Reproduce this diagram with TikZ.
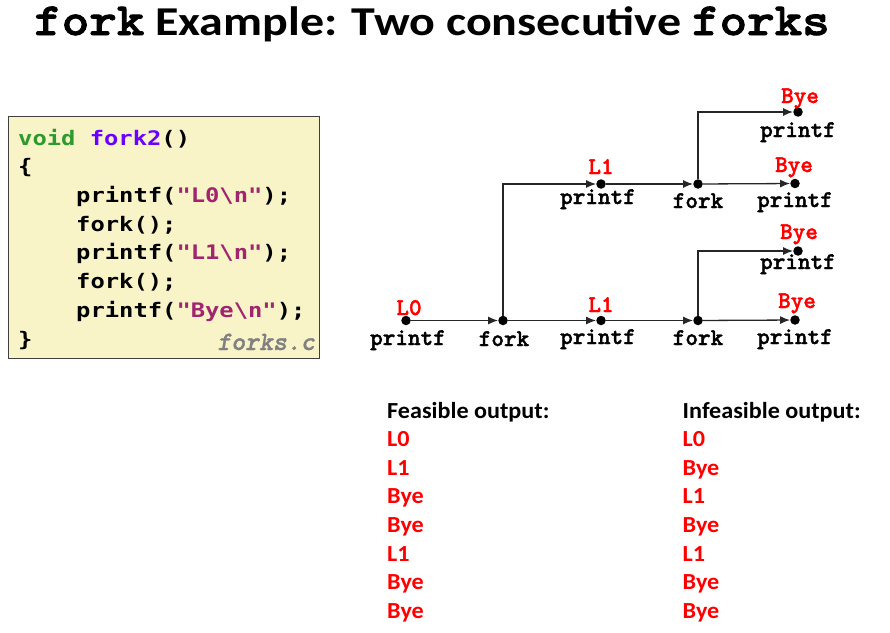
\documentclass[tikz,border=0pt]{standalone}
\usepackage{fontspec}
\setmainfont{Carlito}
\newfontfamily\titlefont[FakeStretch=1.17]{Carlito}
\newfontfamily\outfont[FakeStretch=1.05]{Carlito}
\newfontfamily\slabmono[FakeBold=1.6]{lmmonolt10-bold.otf}
\newfontfamily\slabmonowide[FakeStretch=1.14,FakeBold=2]{lmmonolt10-bold.otf}
\newfontfamily\slabmonoobl[FakeBold=1.2]{lmmonolt10-boldoblique.otf}
\newfontfamily\codefont[FakeStretch=1.19]{DejaVu Sans Mono}
\usetikzlibrary{arrows.meta}

\definecolor{boxfill}{HTML}{F8F4C8}
\definecolor{boxedge}{HTML}{404040}
\definecolor{kwgreen}{HTML}{2E9A2E}
\definecolor{fnpurple}{HTML}{6A00FF}
\definecolor{strmag}{HTML}{A0246E}
\definecolor{outred}{HTML}{FF0000}

\begin{document}
\begin{tikzpicture}[x=1pt,y=-1pt,
  dot/.style={circle,fill=black,inner sep=0pt,minimum size=9.5pt},
  flow/.style={draw=black!85,line width=1.3pt,-{Latex[length=10pt,width=8pt]}},
  redlbl/.style={anchor=base,text=outred,inner sep=0pt,font=\slabmono\fontsize{24}{24}\selectfont},
  blklbl/.style={anchor=base,inner sep=0pt,font=\slabmono\fontsize{24}{24}\selectfont},
  codeline/.style={anchor=base west,inner sep=0pt,font=\codefont\bfseries\fontsize{20}{20}\selectfont},
  outhead/.style={anchor=base west,inner sep=0pt,font=\outfont\bfseries\fontsize{23}{23}\selectfont},
  outline/.style={anchor=base west,inner sep=0pt,text=outred,font=\outfont\bfseries\fontsize{23}{23}\selectfont}]
\useasboundingbox (0,0) rectangle (890,632);

% title
\node[anchor=base,inner sep=0pt,font=\titlefont\bfseries\fontsize{41}{41}\selectfont] (title) at (432,35)
  {{\slabmonowide\fontsize{46}{46}\selectfont fork} Example: Two consecutive {\slabmonowide\fontsize{46}{46}\selectfont forks}};

% source listing
\node[draw=boxedge,fill=boxfill,line width=1.3pt,minimum width=311pt,minimum height=242pt,
      anchor=north west,inner sep=0pt] (code) at (8,116) {};
\node[codeline] (c1) at (18,145) {\textcolor{kwgreen}{void} \textcolor{fnpurple}{fork2}()};
\node[codeline] (c2) at (18,173.7) {\{};
\node[codeline] (c3) at (76,202.4) {printf(\textcolor{strmag}{"L0\textbackslash n"});};
\node[codeline] (c4) at (76,231) {fork();};
\node[codeline] (c5) at (76,259.8) {printf(\textcolor{strmag}{"L1\textbackslash n"});};
\node[codeline] (c6) at (76,288.5) {fork();};
\node[codeline] (c7) at (76,317.2) {printf(\textcolor{strmag}{"Bye\textbackslash n"});};
\node[codeline] (c8) at (18,346) {\}};
\node[anchor=base east,inner sep=0pt,text=black!50,font=\slabmonoobl\fontsize{26.5}{26.5}\selectfont]
  (fname) at (315,350) {forks.c};

% process graph: events
\node[dot] (p0)  at (406,320.5) {};
\node[dot] (f1)  at (503,320.5) {};
\node[dot] (p1l) at (601,320.5) {};
\node[dot] (f2l) at (698,320.5) {};
\node[dot] (b4)  at (795,320) {};
\node[dot] (b3)  at (798,251) {};
\node[dot] (p1u) at (601,184) {};
\node[dot] (f2u) at (698,184) {};
\node[dot] (b2)  at (795,183.5) {};
\node[dot] (b1)  at (798,112) {};

% process graph: control flow
\draw[flow] (p0) -- (f1);
\draw[flow] (f1) -- (p1l);
\draw[flow] (f1) |- (p1u);
\draw[flow] (p1u) -- (f2u);
\draw[flow] (f2u) -- (b2);
\draw[flow] (f2u) |- (b1);
\draw[flow] (p1l) -- (f2l);
\draw[flow] (f2l) -- (b4);
\draw[flow] (f2l) |- (b3);

% process graph: labels
\node[redlbl] (lp0)  at (409,315) {L0};
\node[blklbl] (tp0)  at (408,345) {printf};
\node[blklbl] (tf1)  at (504,346) {fork};
\node[redlbl] (lp1l) at (601,312) {L1};
\node[blklbl] (tp1l) at (598,344) {printf};
\node[blklbl] (tf2l) at (698,345) {fork};
\node[redlbl] (lb4)  at (797,308) {Bye};
\node[blklbl] (tb4)  at (795,344) {printf};
\node[redlbl] (lb3)  at (799,239) {Bye};
\node[blklbl] (tb3)  at (798,269) {printf};
\node[redlbl] (lp1u) at (601,174) {L1};
\node[blklbl] (tp1u) at (598,204) {printf};
\node[blklbl] (tf2u) at (698,208) {fork};
\node[redlbl] (lb2)  at (794,172) {Bye};
\node[blklbl] (tb2)  at (795,207) {printf};
\node[redlbl] (lb1)  at (800,103) {Bye};
\node[blklbl] (tb1)  at (798,137) {printf};

% output orderings
\node[outhead] (feas) at (387,418) {Feasible output:};
\node[outline] (fa) at (387,446.6) {L0};
\node[outline] (fb) at (387,475.2) {L1};
\node[outline] (fc) at (387,503.8) {Bye};
\node[outline] (fd) at (387,532.4) {Bye};
\node[outline] (fe) at (387,561.0) {L1};
\node[outline] (ff) at (387,589.6) {Bye};
\node[outline] (fg) at (387,618.2) {Bye};

\node[outhead] (infeas) at (682.5,418) {Infeasible output:};
\node[outline] (ia) at (682.5,446.6) {L0};
\node[outline] (ib) at (682.5,475.2) {Bye};
\node[outline] (ic) at (682.5,503.8) {L1};
\node[outline] (id) at (682.5,532.4) {Bye};
\node[outline] (ie) at (682.5,561.0) {L1};
\node[outline] (if) at (682.5,589.6) {Bye};
\node[outline] (ig) at (682.5,618.2) {Bye};
\end{tikzpicture}
\end{document}
